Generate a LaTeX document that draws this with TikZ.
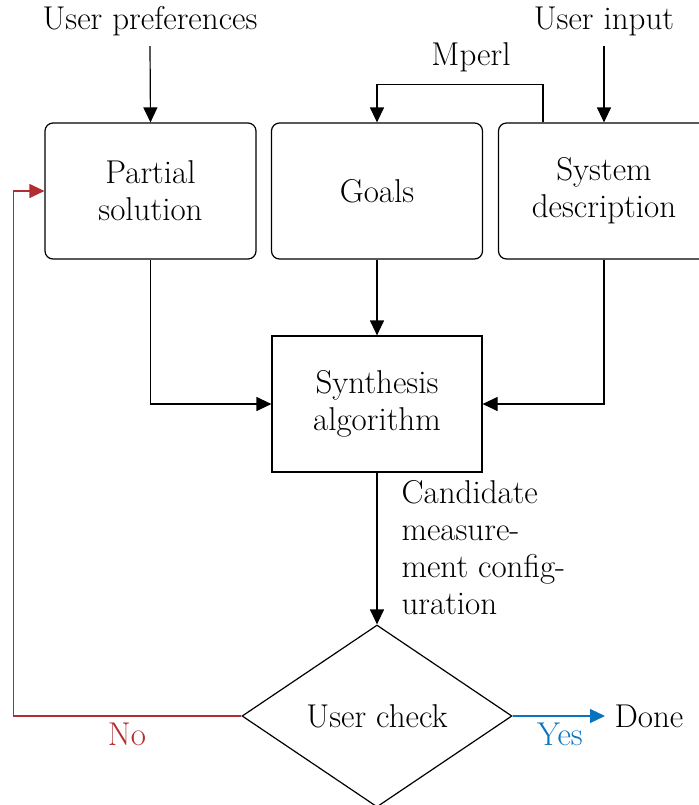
\documentclass[tikz,border=0pt]{standalone}
\usetikzlibrary{arrows.meta,shapes.geometric,calc}
\definecolor{noRed}{RGB}{178,45,50}
\definecolor{yesBlue}{RGB}{10,115,190}

\begin{document}
\begin{tikzpicture}[x=0.5pt,y=-0.5pt,
  font=\fontsize{16.5pt}{18.5pt}\selectfont,
  line width=0.6pt,
  arr/.style={-{Triangle[length=7.5pt,width=7pt]}},
  rbox/.style={draw, rounded corners=4pt, minimum width=105.5pt,
    minimum height=68pt, align=center, inner sep=0pt},
  sbox/.style={draw, minimum width=105pt, minimum height=68pt,
    align=center, inner sep=0pt},
  src/.style={inner sep=5pt}]
\clip (0,0) rectangle (699,805);

% inputs
\node[src, anchor=base] (prefs) at (150,29) {User preferences};
\node[src, anchor=base] (input) at (604,29) {User input};

% top row of blocks
\node[rbox] (partial) at (150.5,191) {Partial\\solution};
\node[rbox] (goals)   at (377,191)   {Goals};
\node[rbox] (sys)     at (604,191)   {System\\description};

% core
\node[sbox] (synth) at (377,404) {Synthesis\\algorithm};
\node[draw, diamond, aspect=1.5, minimum width=135pt, minimum height=91pt,
  inner sep=0pt] (check) at (377,716) {User check};
\node[anchor=west, inner sep=4.5pt] (done) at (605,716) {Done};

% connectors
\draw[arr] (prefs.south) -- (partial.north);
\draw[arr] (input.south) -- (sys.north);
\draw[arr] ($(sys.north west)+(45,0)$) -- ++(0,-38) -| (goals.north);
\node[anchor=base] (mperl) at (471,65) {Mperl};

\draw[arr] (goals.south) -- (synth.north);
\draw[arr] (partial.south) |- (synth.west);
\draw[arr] (sys.south) |- (synth.east);
\draw[arr] (synth.south) -- (check.north);
\node[anchor=north west, align=left, inner sep=0pt] (cand) at (401,480)
  {Candidate\\measure-\\ment config-\\uration};

\draw[arr, noRed] (check.west) -- ++(-228,0) |- (partial.west);
\node[anchor=base, text=noRed] (no) at (127,745) {No};
\draw[arr, yesBlue] (check.east) -- (done.west);
\node[anchor=base, text=yesBlue] (yes) at (560,745) {Yes};
\end{tikzpicture}
\end{document}
